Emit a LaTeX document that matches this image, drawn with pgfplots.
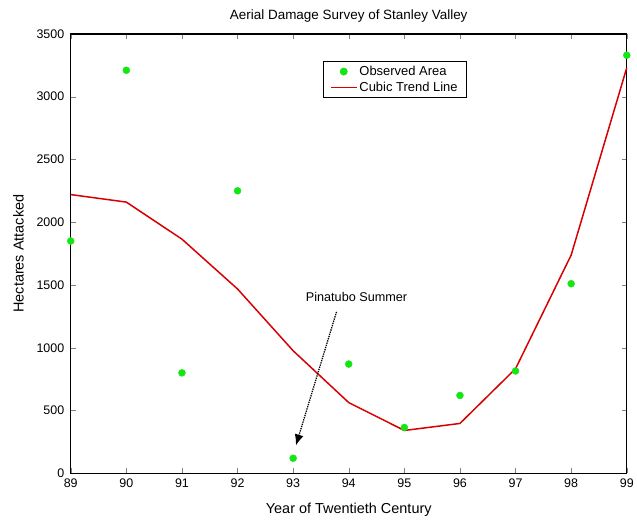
\documentclass[border=0pt]{standalone}
\usepackage{fontspec}
\setmainfont{Liberation Sans}
\usepackage{pgfplots}
\pgfplotsset{compat=1.18}
\usetikzlibrary{arrows.meta}
\definecolor{obsgreen}{RGB}{20,230,20}
\definecolor{trendred}{RGB}{215,0,0}
\pgfplotsset{
    dotlegend/.style={legend image code/.code={\draw[mark repeat=2,mark phase=2,##1] plot coordinates {(0pt,0pt) (13pt,0pt) (26pt,0pt)};}},
}

\begin{document}
\begin{tikzpicture}
    \begin{axis}[
        scale only axis,
        width=558pt, height=441pt,
        title={Aerial Damage Survey of Stanley Valley},
        title style={font=\fontsize{13.5}{15}\selectfont, at={(axis description cs:0.5,1.027)}, anchor=center},
        xlabel={Year of Twentieth Century},
        ylabel={Hectares Attacked},
        label style={font=\fontsize{14.5}{16}\selectfont},
        xlabel style={at={(axis description cs:0.5,-0.082)}, anchor=center},
        ylabel style={at={(axis description cs:-0.094,0.5)}, anchor=center},
        xmin=89, xmax=99,
        ymin=0, ymax=3500,
        xtick={89,...,99},
        ytick={0,500,...,3500},
        tick label style={font=\fontsize{12.5}{14}\selectfont},
        yticklabel style={xshift=-3pt},
        xticklabel style={yshift=-2pt},
        /pgf/number format/assume math mode=true,
        /pgf/number format/1000 sep={},
        tick align=inside,
        major tick length=5pt,
        axis line style={line width=1.3pt},
        clip=false,
        legend style={at={(0.453,0.939)}, anchor=north west, draw=black,
            line width=0.9pt, font=\fontsize{13}{14}\selectfont,
            row sep=1pt, inner xsep=7pt, inner ysep=3pt},
        legend cell align=left,
        ]

    \addplot[only marks, mark=*, mark size=3.5pt, color=obsgreen, dotlegend]
        coordinates {(89,1850)(90,3210)(91,800)(92,2250)(93,120)(94,870)(95,365)(96,620)(97,815)(98,1510)(99,3330)};
    \addlegendentry{Observed Area}

    \addplot[color=trendred, line width=1.5pt, mark=none,
        legend image code/.code={\draw[trendred, line width=1.5pt] (0pt,0pt) -- (26pt,0pt);}]
        coordinates {(89,2220)(90,2160)(91,1865)(92,1468)(93,976)(94,563)(95,341)(96,397)(97,833)(98,1738)(99,3230)};
    \addlegendentry{Cubic Trend Line}

    \node[font=\fontsize{12.7}{14}\selectfont] at (axis cs:94.14,1405) {Pinatubo Summer};
    \draw[densely dotted, line width=1.3pt, -{Latex[length=11pt,width=9pt]}] (axis cs:93.78,1286) -- (axis cs:93.05,222);
    \end{axis}
    % white margin as in the reference
    \path (current axis.south west) ++(-71pt,-48pt) coordinate (bbA);
    \path (current axis.north east) ++(8pt,34pt) coordinate (bbB);
    \path (bbA) rectangle (bbB);
\end{tikzpicture}
\end{document}
